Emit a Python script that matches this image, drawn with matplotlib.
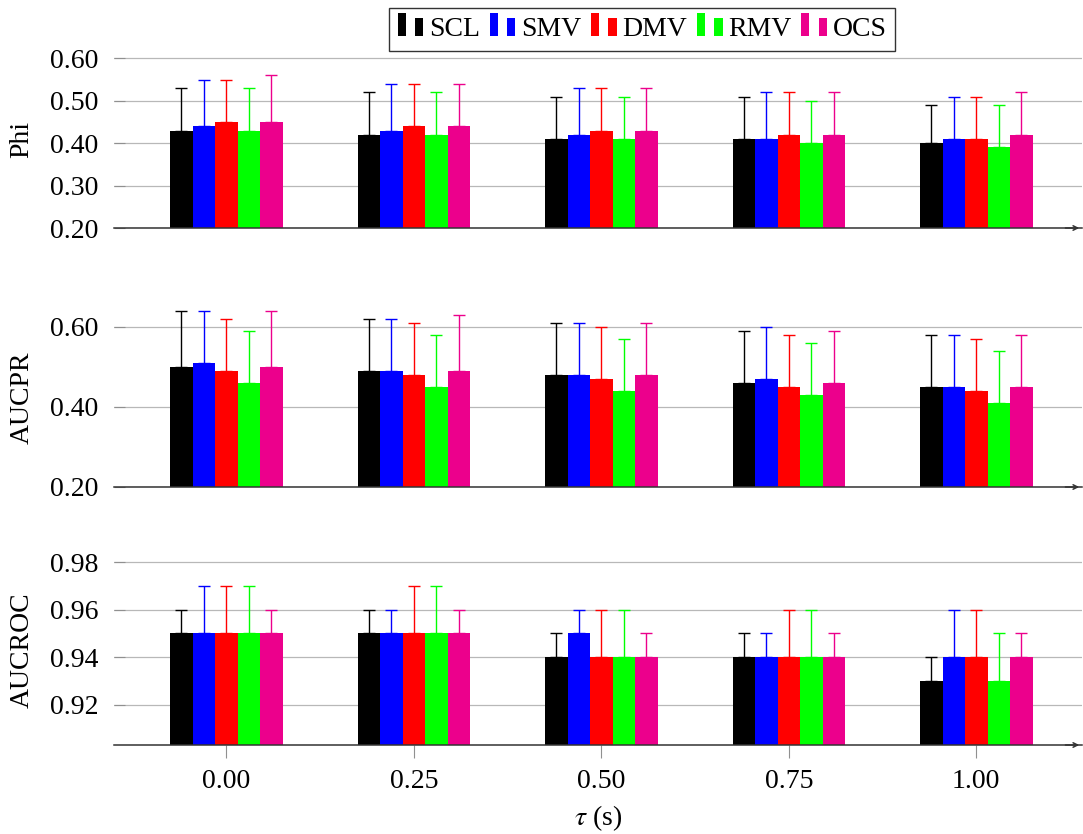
import numpy as np
import matplotlib
matplotlib.use("Agg")
import matplotlib.pyplot as plt
from matplotlib.patches import Rectangle
from matplotlib.container import BarContainer
from matplotlib.legend_handler import HandlerBase

plt.rcParams['font.family'] = ['Liberation Serif', 'DejaVu Serif']
plt.rcParams['mathtext.fontset'] = 'stix'

tau = [0.00, 0.25, 0.50, 0.75, 1.00]
methods = ['SCL', 'SMV', 'DMV', 'RMV', 'OCS']
colors = ['#000000', '#0000ff', '#ff0000', '#00ff00', '#ec008c']

# mean per method (rows) and tau (columns)
phi_mean = [[0.43, 0.42, 0.41, 0.41, 0.40],
            [0.44, 0.43, 0.42, 0.41, 0.41],
            [0.45, 0.44, 0.43, 0.42, 0.41],
            [0.43, 0.42, 0.41, 0.40, 0.39],
            [0.45, 0.44, 0.43, 0.42, 0.42]]
phi_std = [[0.10, 0.10, 0.10, 0.10, 0.09],
           [0.11, 0.11, 0.11, 0.11, 0.10],
           [0.10, 0.10, 0.10, 0.10, 0.10],
           [0.10, 0.10, 0.10, 0.10, 0.10],
           [0.11, 0.10, 0.10, 0.10, 0.10]]

pr_mean = [[0.50, 0.49, 0.48, 0.46, 0.45],
           [0.51, 0.49, 0.48, 0.47, 0.45],
           [0.49, 0.48, 0.47, 0.45, 0.44],
           [0.46, 0.45, 0.44, 0.43, 0.41],
           [0.50, 0.49, 0.48, 0.46, 0.45]]
pr_std = [[0.14, 0.13, 0.13, 0.13, 0.13],
          [0.13, 0.13, 0.13, 0.13, 0.13],
          [0.13, 0.13, 0.13, 0.13, 0.13],
          [0.13, 0.13, 0.13, 0.13, 0.13],
          [0.14, 0.14, 0.13, 0.13, 0.13]]

roc_mean = [[0.95, 0.95, 0.94, 0.94, 0.93],
            [0.95, 0.95, 0.95, 0.94, 0.94],
            [0.95, 0.95, 0.94, 0.94, 0.94],
            [0.95, 0.95, 0.94, 0.94, 0.93],
            [0.95, 0.95, 0.94, 0.94, 0.94]]
roc_std = [[0.01, 0.01, 0.01, 0.01, 0.01],
           [0.02, 0.01, 0.01, 0.01, 0.02],
           [0.02, 0.02, 0.02, 0.02, 0.02],
           [0.02, 0.02, 0.02, 0.02, 0.02],
           [0.01, 0.01, 0.01, 0.01, 0.01]]

W, H = 1083, 834
fig = plt.figure(figsize=(W / 100, H / 100), dpi=100)


def ax_px(left, top, right, bottom):
    return fig.add_axes([left / W, 1 - bottom / H, (right - left) / W, (bottom - top) / H])


class TwoBars(HandlerBase):
    # legend image: two small bars of different height standing on the baseline
    def create_artists(self, legend, orig, xd, yd, width, height, fontsize, trans):
        c = orig.patches[0].get_facecolor()
        r1 = Rectangle((-xd, -yd), 0.3 * fontsize, 0.83 * fontsize, facecolor=c,
                       edgecolor='none', transform=trans)
        r2 = Rectangle((-xd + 0.63 * fontsize, -yd), 0.3 * fontsize, 0.65 * fontsize,
                       facecolor=c, edgecolor='none', transform=trans)
        return [r1, r2]


panels = [
    ('Phi', phi_mean, phi_std, (0.2, 0.62), [0.2, 0.3, 0.4, 0.5, 0.6], (50, 228)),
    ('AUCPR', pr_mean, pr_std, (0.2, 0.645), [0.2, 0.4, 0.6], (309, 487)),
    ('AUCROC', roc_mean, roc_std, (0.903, 0.983), [0.92, 0.94, 0.96, 0.98], (555, 745)),
]

x = np.array(tau)
w = 0.03
axes = []
for k, (name, mean, std, ylim, yt, (top, bot)) in enumerate(panels):
    ax = ax_px(114, top, 1082, bot)
    for i, m in enumerate(methods):
        off = (i - 2) * w
        ax.bar(x + off, mean[i], width=w, color=colors[i], label=m, zorder=2)
        ax.errorbar(x + off, mean[i], yerr=[np.zeros(5), std[i]], fmt='none',
                    ecolor=colors[i], elinewidth=1, capsize=4, capthick=1,
                    zorder=3, clip_on=False)
    ax.set_xlim(-0.15, 1.141)
    ax.set_ylim(*ylim)
    ax.set_yticks(yt)
    ax.set_yticklabels(['%.2f' % v for v in yt])
    ax.yaxis.grid(True, color='#b8b8b8', lw=0.9, zorder=0)
    ax.set_axisbelow(True)
    for s in ['top', 'right', 'left']:
        ax.spines[s].set_visible(False)
    ax.spines['bottom'].set_color('#333333')
    ax.spines['bottom'].set_linewidth(1.1)
    ax.tick_params(axis='y', direction='in', length=8, color='#909090',
                   labelsize=20, pad=11)
    ax.set_xticks(tau)
    if k < 2:
        ax.tick_params(axis='x', length=0, labelbottom=False)
    else:
        ax.set_xticklabels(['%.2f' % t for t in tau])
        ax.tick_params(axis='x', direction='out', length=9, color='#909090',
                       labelsize=20, pad=8)
        ax.set_xlabel(r'$\tau$ (s)', fontsize=20, labelpad=7)
    ax.set_ylabel(name, fontsize=20)
    ax.yaxis.set_label_coords(-0.082, 0.5)
    ax.annotate('', xy=(1.0, 0), xytext=(0.98, 0), xycoords='axes fraction',
                arrowprops=dict(arrowstyle='->', color='#333333', lw=1.1,
                                mutation_scale=8))
    axes.append(ax)

h, l = axes[0].get_legend_handles_labels()
leg = fig.legend(h, l, loc='center', bbox_to_anchor=(642 / W, 1 - 29.5 / H),
                 ncol=5, fontsize=20, frameon=True, fancybox=False,
                 handler_map={BarContainer: TwoBars()}, handlelength=0.93,
                 handletextpad=0.2, columnspacing=0.35, borderpad=0.3,
                 borderaxespad=0)
leg.get_frame().set_edgecolor('black')
leg.get_frame().set_linewidth(1.0)

fig.savefig('out.png', dpi=100)
